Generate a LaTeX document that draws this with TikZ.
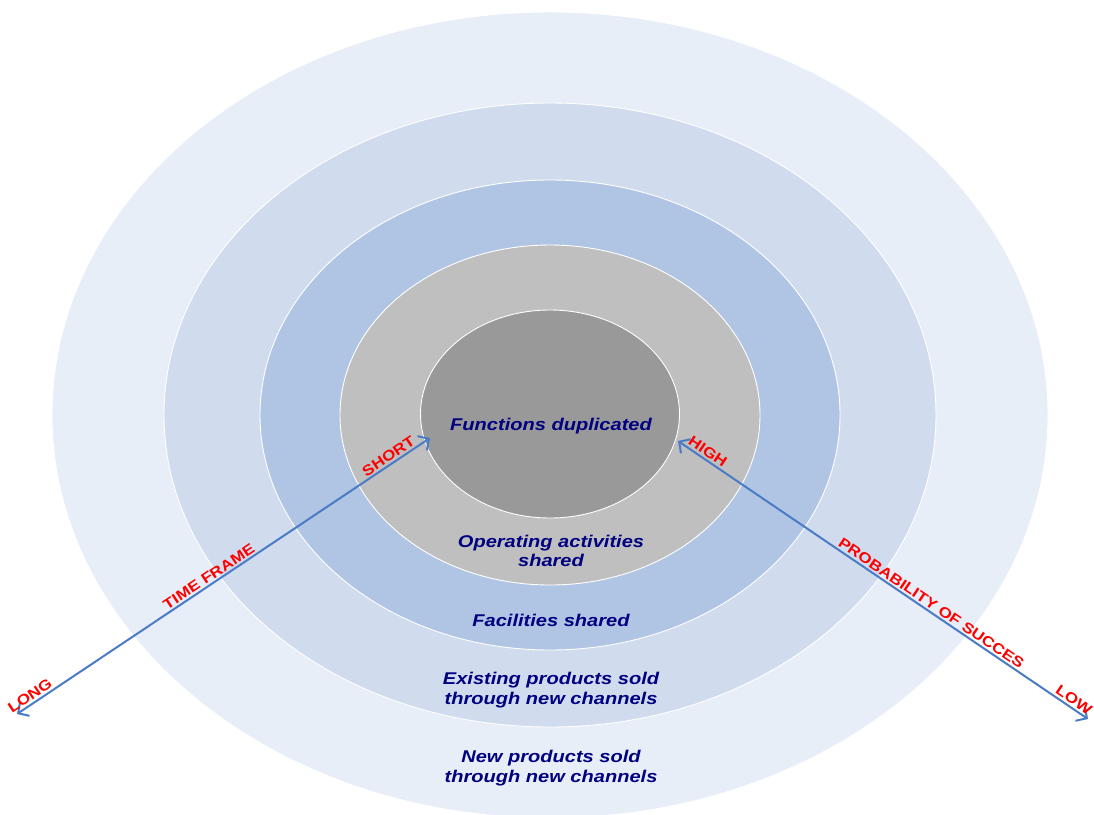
\documentclass[tikz,border=0pt]{standalone}
\usepackage{fontspec}
\setmainfont{Liberation Sans}[FakeStretch=1.18]
\usetikzlibrary{arrows.meta}
\definecolor{ringA}{HTML}{E7EEF8}
\definecolor{ringB}{HTML}{D0DCEE}
\definecolor{ringC}{HTML}{B0C5E4}
\definecolor{ringD}{HTML}{BFBFBF}
\definecolor{ringE}{HTML}{999999}
\definecolor{navytext}{HTML}{000080}
\definecolor{arrowblue}{HTML}{4A7CC6}
\begin{document}
\begin{tikzpicture}[x=1pt,y=-1pt,
  ring/.style={draw=white,line width=0.9pt},
  ringtext/.style={font=\bfseries\itshape\fontsize{17}{19.5}\selectfont,text=navytext,align=center,inner sep=0pt},
  redlabel/.style={font=\bfseries\fontsize{14.5}{16}\selectfont,text=red,sloped,above,inner sep=1.8pt},
  axis/.style={draw=arrowblue,line width=2pt,{Straight Barb[length=8pt,width=17pt]}-{Straight Barb[length=8pt,width=17pt]}}]
\useasboundingbox (0,0) rectangle (1094,814);
\clip (0,0) rectangle (1094,814);
\fill[white] (0,0) rectangle (1094,814);
\path[ring,fill=ringA] (550,415) ellipse [x radius=498pt,y radius=403pt];
\path[ring,fill=ringB] (550,415) ellipse [x radius=386pt,y radius=312pt];
\path[ring,fill=ringC] (550,415) ellipse [x radius=290pt,y radius=235pt];
\path[ring,fill=ringD] (550,415) ellipse [x radius=210pt,y radius=170pt];
\path[ring,fill=ringE] (550,414) ellipse [x radius=129.5pt,y radius=104pt];
\node[ringtext,anchor=base] (fd) at (551,430) {Functions duplicated};
\node[ringtext] (oa) at (551,551) {Operating activities\\shared};
\node[ringtext,anchor=base] (fs) at (551,626) {Facilities shared};
\node[ringtext] (ep) at (551,690) {Existing products sold\\through new channels};
\node[ringtext] (np) at (551,768) {New products sold\\through new channels};
\coordinate (longend) at (17,714);
\coordinate (shortend) at (430,438);
\coordinate (highend) at (678,441);
\coordinate (lowend) at (1088,719);
\draw[axis] (longend) -- (shortend)
  node[redlabel,pos=0.042] (long) {LONG}
  node[redlabel,pos=0.475] (tf) {TIME FRAME}
  node[redlabel,pos=0.91] (short) {SHORT};
\draw[axis] (highend) -- (lowend)
  node[redlabel,pos=0.062] (high) {HIGH}
  node[redlabel,pos=0.607] (pos) {PROBABILITY OF SUCCES}
  node[redlabel,pos=0.955] (low) {LOW};
\end{tikzpicture}
\end{document}
